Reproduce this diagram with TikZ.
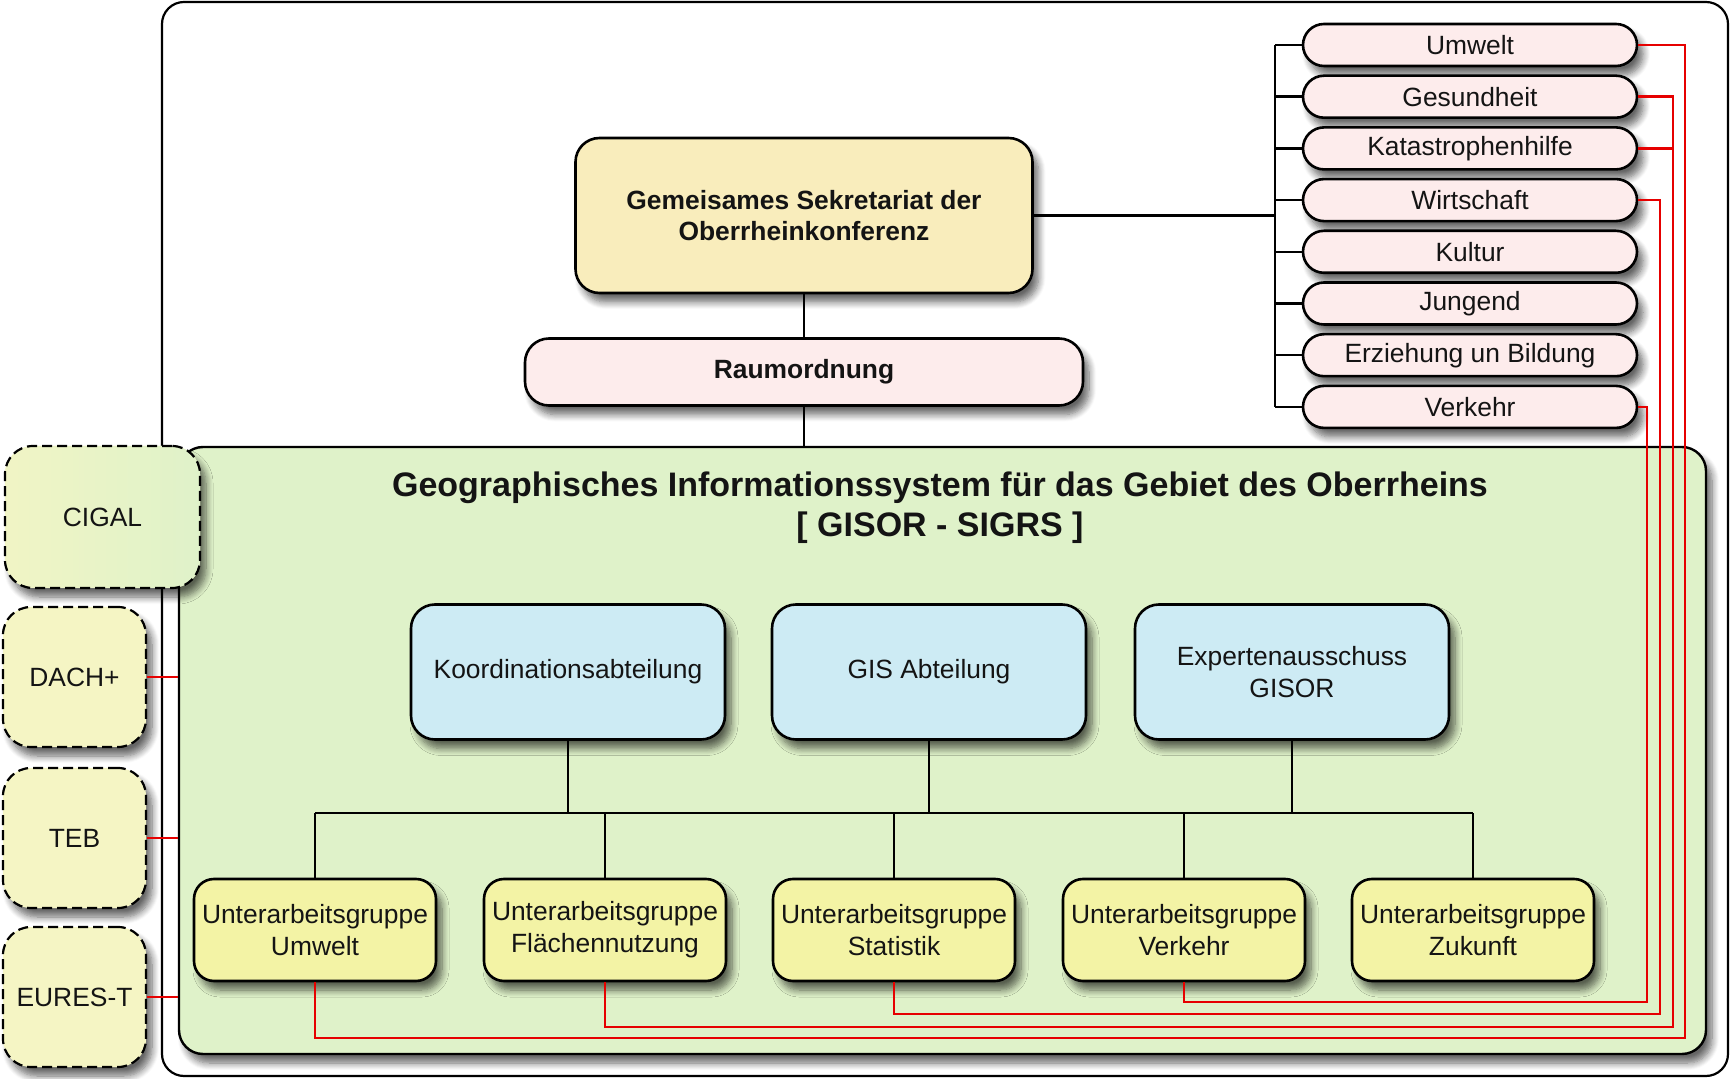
\documentclass[tikz,border=0pt]{standalone}
\usepackage{fontspec}
\setmainfont{Liberation Sans}
\usetikzlibrary{positioning, shapes, calc, shadows.blur}

\definecolor{sekrgelb}{RGB}{249,237,188}
\definecolor{rosa}{RGB}{253,236,236}
\definecolor{gisgruen}{RGB}{223,242,201}
\definecolor{hellblau}{RGB}{205,235,244}
\definecolor{uaggelb}{RGB}{243,243,165}
\definecolor{extgelb}{RGB}{245,245,196}
\definecolor{rotlinie}{RGB}{230,0,0}

\tikzset{
  schatten/.style={blur shadow={shadow xshift=3pt, shadow yshift=-4.5pt,
      shadow blur steps=8, shadow blur radius=3.5pt, shadow opacity=60}},
  box/.style={draw, line width=1.3pt, rounded corners=12pt, align=center,
    inner sep=1pt, font=\fontsize{13.2}{16}\selectfont, schatten},
  sekrbox/.style={box, fill=sekrgelb, minimum width=228.5pt, minimum height=77.5pt,
    font=\fontsize{13.2}{15.5}\selectfont\bfseries},
  raumbox/.style={box, fill=rosa, minimum width=279pt, minimum height=33.5pt,
    font=\fontsize{13.2}{16}\selectfont\bfseries},
  pillbox/.style={box, fill=rosa, rounded corners=10.5pt, minimum width=167pt,
    minimum height=21pt, inner sep=0pt},
  bluebox/.style={box, fill=hellblau, minimum width=157pt, minimum height=67.5pt},
  uagbox/.style={box, fill=uaggelb, rounded corners=10pt, minimum width=121pt,
    minimum height=51pt},
  extbox/.style={draw, line width=1.1pt, dash pattern=on 5pt off 2.5pt,
    rounded corners=14pt, fill=extgelb, minimum width=71.5pt, minimum height=70pt,
    font=\fontsize{13.2}{16}\selectfont, schatten},
  gisorbox/.style={draw, line width=1.2pt, rounded corners=12pt, fill=gisgruen,
    minimum width=763.5pt, minimum height=303.5pt, schatten},
  conn/.style={line width=1.2pt},
  rot/.style={draw=rotlinie, line width=1.3pt},
}

\begin{document}
\begin{tikzpicture}[x=0.5pt, y=-0.5pt, every node/.style={text=black!92}]
\useasboundingbox (0,0) rectangle (1731,1079);

% outer frame
\draw[line width=1.1pt, rounded corners=11pt] (162,2) rectangle (1728,1076);

% GISOR area
\node[gisorbox] (gisor) at (942.5,750.5) {};
\node[align=center, font=\fontsize{17}{20}\selectfont\bfseries] (titel) at (940,508)
  {Geographisches Informationssystem für das Gebiet des Oberrheins\\{}[ GISOR - SIGRS ]};

% top
\node[sekrbox] (sekr) at (804,215.5) {Gemeisames Sekretariat der\\Oberrheinkonferenz};
\node[raumbox] (raum) at (804,372) {Raumordnung};

% working groups of the conference
\foreach \t [count=\i] in {Umwelt, Gesundheit, Katastrophenhilfe, Wirtschaft,
    Kultur, Jungend, Erziehung un Bildung, Verkehr}
  \node[pillbox] (p\i) at (1470,{45+51.7*(\i-1)}) {\t};

% departments
\node[bluebox] (koord) at (568,672) {Koordinationsabteilung};
\node[bluebox] (gisab) at (929,672) {GIS Abteilung};
\node[bluebox] (expert) at (1292,672) {Expertenausschuss\\GISOR};

% sub working groups
\foreach \t/\x [count=\i] in {Umwelt/315, Flächennutzung/605, Statistik/894,
    Verkehr/1184, Zukunft/1473}
  \node[uagbox] (uag\i) at (\x,930) {Unterarbeitsgruppe\\\t};

% partners left
\node[extbox, minimum width=97.5pt, minimum height=71pt,
  left color=extgelb!80!gisgruen, right color=gisgruen] (cigal) at (102.5,517) {CIGAL};
\node[extbox] (dach) at (74.5,677) {DACH+};
\node[extbox] (teb) at (74.5,838) {TEB};
\node[extbox] (eures) at (74.5,997) {EURES-T};

% black connectors
\coordinate (brk) at ($(p1.west)+(-27,0)$);
\coordinate (bus) at (0,813);
\draw[conn] (sekr.south) -- (raum.north);
\draw[conn] (raum.south) -- (raum.south |- gisor.north);
\draw[conn] (sekr.east) -- (sekr.east -| brk);
\draw[conn] (brk) -- (brk |- p8.west);
\foreach \i in {1,...,8}
  \draw[conn] (p\i.west) -- (p\i.west -| brk);
\foreach \n in {koord, gisab, expert}
  \draw[conn] (\n.south) -- (\n.south |- bus);
\foreach \i in {1,...,5}
  \draw[conn] (uag\i.north) -- (uag\i.north |- bus);
\draw[conn] (uag1.north |- bus) -- (uag5.north |- bus);

% red links
\coordinate (k1) at (1685,1038);
\coordinate (k2) at (1673,1027);
\coordinate (k4) at (1660,1014);
\coordinate (k8) at (1647,1002);
\draw[rot] (p1.east) -| (k1) -| (uag1.south);
\draw[rot] (p2.east) -| (k2) -| (uag2.south);
\draw[rot] (p3.east) -- (p3.east -| k2);
\draw[rot] (p4.east) -| (k4) -| (uag3.south);
\draw[rot] (p8.east) -| (k8) -| (uag4.south);
\foreach \n in {dach, teb, eures}
  \draw[rot] (\n.east) -- (\n.east -| gisor.west);
\end{tikzpicture}
\end{document}
